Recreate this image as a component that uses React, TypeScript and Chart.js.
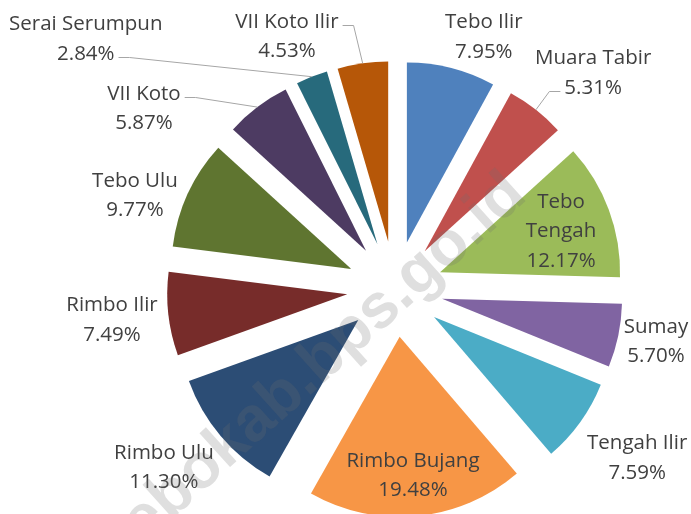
import React, { useEffect, useRef } from 'react';
import { Chart, registerables, ArcElement, PieController } from 'chart.js';

// ---- data ----
const categories = [
  'Tebo Ilir', 'Muara Tabir', 'Tebo Tengah', 'Sumay', 'Tengah Ilir', 'Rimbo Bujang',
  'Rimbo Ulu', 'Rimbo Ilir', 'Tebo Ulu', 'VII Koto', 'Serai Serumpun', 'VII Koto Ilir',
];
const shares = [7.95, 5.31, 12.17, 5.70, 7.59, 19.48, 11.30, 7.49, 9.77, 5.87, 2.84, 4.53];
const sliceColors = [
  '#4F81BD', '#C0504D', '#9BBB59', '#8064A2', '#4BACC6', '#F79646',
  '#2C4D75', '#772C2A', '#5F7530', '#4D3B62', '#276A7C', '#B65708',
];
const watermarkText = 'tebokab.bps.go.id';

// ---- label placement (polar, relative to each slice's mid angle) ----
const labelAngleShift = [5.0, 4.2, 0.8, -0.75, -1.0, 0, 2.7, 0.3, -4.7, -17.0, -29.5, -14.9];
const labelRadius = [1.492, 1.633, 0.979, 1.477, 1.637, 1.033, 1.617, 1.581, 1.538, 1.722, 2.213, 1.533];
const labelWrap = [false, false, true, false, false, false, false, false, false, false, false, false];
const leaderLines: (null | { line: number; side: 'left' | 'right' })[] = [
  null, { line: 1, side: 'left' }, null, null, null, null,
  null, null, null, { line: 0, side: 'right' }, { line: 1, side: 'right' }, { line: 0, side: 'right' },
];

// ---- styles ----
const EXPLODE_RATIO = 0.267;
const FONT = '20.5px "Open Sans"';
const CAP = 14.7;
const LINE_H = 29.5;
const TEXT_COLOR = '#404040';
const LEADER_COLOR = '#A6A6A6';

class FlatArc extends ArcElement {
  static id = 'flatArc';
  draw(ctx: CanvasRenderingContext2D) {
    const self = this as any;
    const { x, y, startAngle, endAngle, outerRadius } = self;
    if (!(endAngle > startAngle)) return;
    const mid = (startAngle + endAngle) / 2;
    const d = outerRadius * EXPLODE_RATIO;
    ctx.save();
    ctx.translate(Math.cos(mid) * d, Math.sin(mid) * d);
    ctx.beginPath();
    ctx.moveTo(x, y);
    ctx.arc(x, y, outerRadius, startAngle, endAngle);
    ctx.closePath();
    ctx.fillStyle = self.options.backgroundColor;
    ctx.fill();
    ctx.restore();
  }
}

class ExplodedPieController extends PieController {
  static id = 'explodedPie';
  static defaults = { dataElementType: 'flatArc' };
}

Chart.register(...registerables, FlatArc, ExplodedPieController);

const labelPlugin = {
  id: 'sliceLabels',
  afterDatasetsDraw(chart: any) {
    const ctx: CanvasRenderingContext2D = chart.ctx;
    const meta = chart.getDatasetMeta(0);
    ctx.save();
    ctx.font = FONT;
    ctx.fillStyle = TEXT_COLOR;
    ctx.textAlign = 'center';
    ctx.textBaseline = 'alphabetic';
    meta.data.forEach((arc: any, i: number) => {
      const { x, y, startAngle, endAngle, outerRadius } = arc.getProps(
        ['x', 'y', 'startAngle', 'endAngle', 'outerRadius'], true);
      const mid = (startAngle + endAngle) / 2;
      const a = mid + (labelAngleShift[i] * Math.PI) / 180;
      const r = outerRadius * labelRadius[i];
      const cx = x + Math.cos(a) * r;
      const cy = y + Math.sin(a) * r;
      const lines = [
        ...(labelWrap[i] ? categories[i].split(' ') : [categories[i]]),
        shares[i].toFixed(2) + '%',
      ];
      const n = lines.length;
      const baselines = lines.map((_, j) => cy + CAP / 2 + (j - (n - 1) / 2) * LINE_H);
      lines.forEach((t, j) => ctx.fillText(t, cx, baselines[j]));
      const ld = leaderLines[i];
      if (ld) {
        const w = ctx.measureText(lines[ld.line]).width;
        const ly = Math.round(baselines[ld.line] - 3) + 0.5;
        const dir = ld.side === 'right' ? 1 : -1;
        const x0 = cx + dir * (w / 2 + 4);
        const x1 = x0 + dir * 11;
        const pr = outerRadius * (1 + EXPLODE_RATIO);
        const px = x + Math.cos(mid) * pr;
        const py = y + Math.sin(mid) * pr;
        ctx.save();
        ctx.strokeStyle = LEADER_COLOR;
        ctx.lineWidth = 1;
        ctx.beginPath();
        ctx.moveTo(x0, ly);
        ctx.lineTo(x1, ly);
        ctx.lineTo(px, py);
        ctx.stroke();
        ctx.restore();
      }
    });
    ctx.restore();
  },
};

const watermarkPlugin = {
  id: 'watermark',
  afterDraw(chart: any) {
    const ctx: CanvasRenderingContext2D = chart.ctx;
    ctx.save();
    ctx.translate(128, 559);
    ctx.rotate((-42 * Math.PI) / 180);
    ctx.font = 'bold 63px "Liberation Sans"';
    ctx.fillStyle = 'rgba(110,110,110,0.22)';
    ctx.textAlign = 'left';
    ctx.textBaseline = 'alphabetic';
    ctx.fillText(watermarkText, 0, 0);
    ctx.restore();
  },
};

export default function App() {
  const ref = useRef<HTMLCanvasElement | null>(null);
  useEffect(() => {
    document.body.style.margin = '0';
    const canvas = ref.current!;
    const chart = new Chart(canvas, {
      type: 'explodedPie' as any,
      data: {
        labels: categories,
        datasets: [{
          data: shares,
          backgroundColor: sliceColors,
          borderWidth: 0,
          offset: 0,
          clip: false as any,
        } as any],
      },
      options: {
        responsive: false,
        animation: false,
        events: [],
        layout: { padding: { left: 215, right: 116, top: 109, bottom: 45 } },
        plugins: { legend: { display: false }, tooltip: { enabled: false } },
      } as any,
      plugins: [labelPlugin, watermarkPlugin],
    });
    return () => chart.destroy();
  }, []);
  return (
    <div style={{ position: 'absolute', left: 0, top: 0, width: 691, height: 514, background: '#fff' }}>
      <canvas ref={ref} width={691} height={514} style={{ display: 'block' }} />
    </div>
  );
}
